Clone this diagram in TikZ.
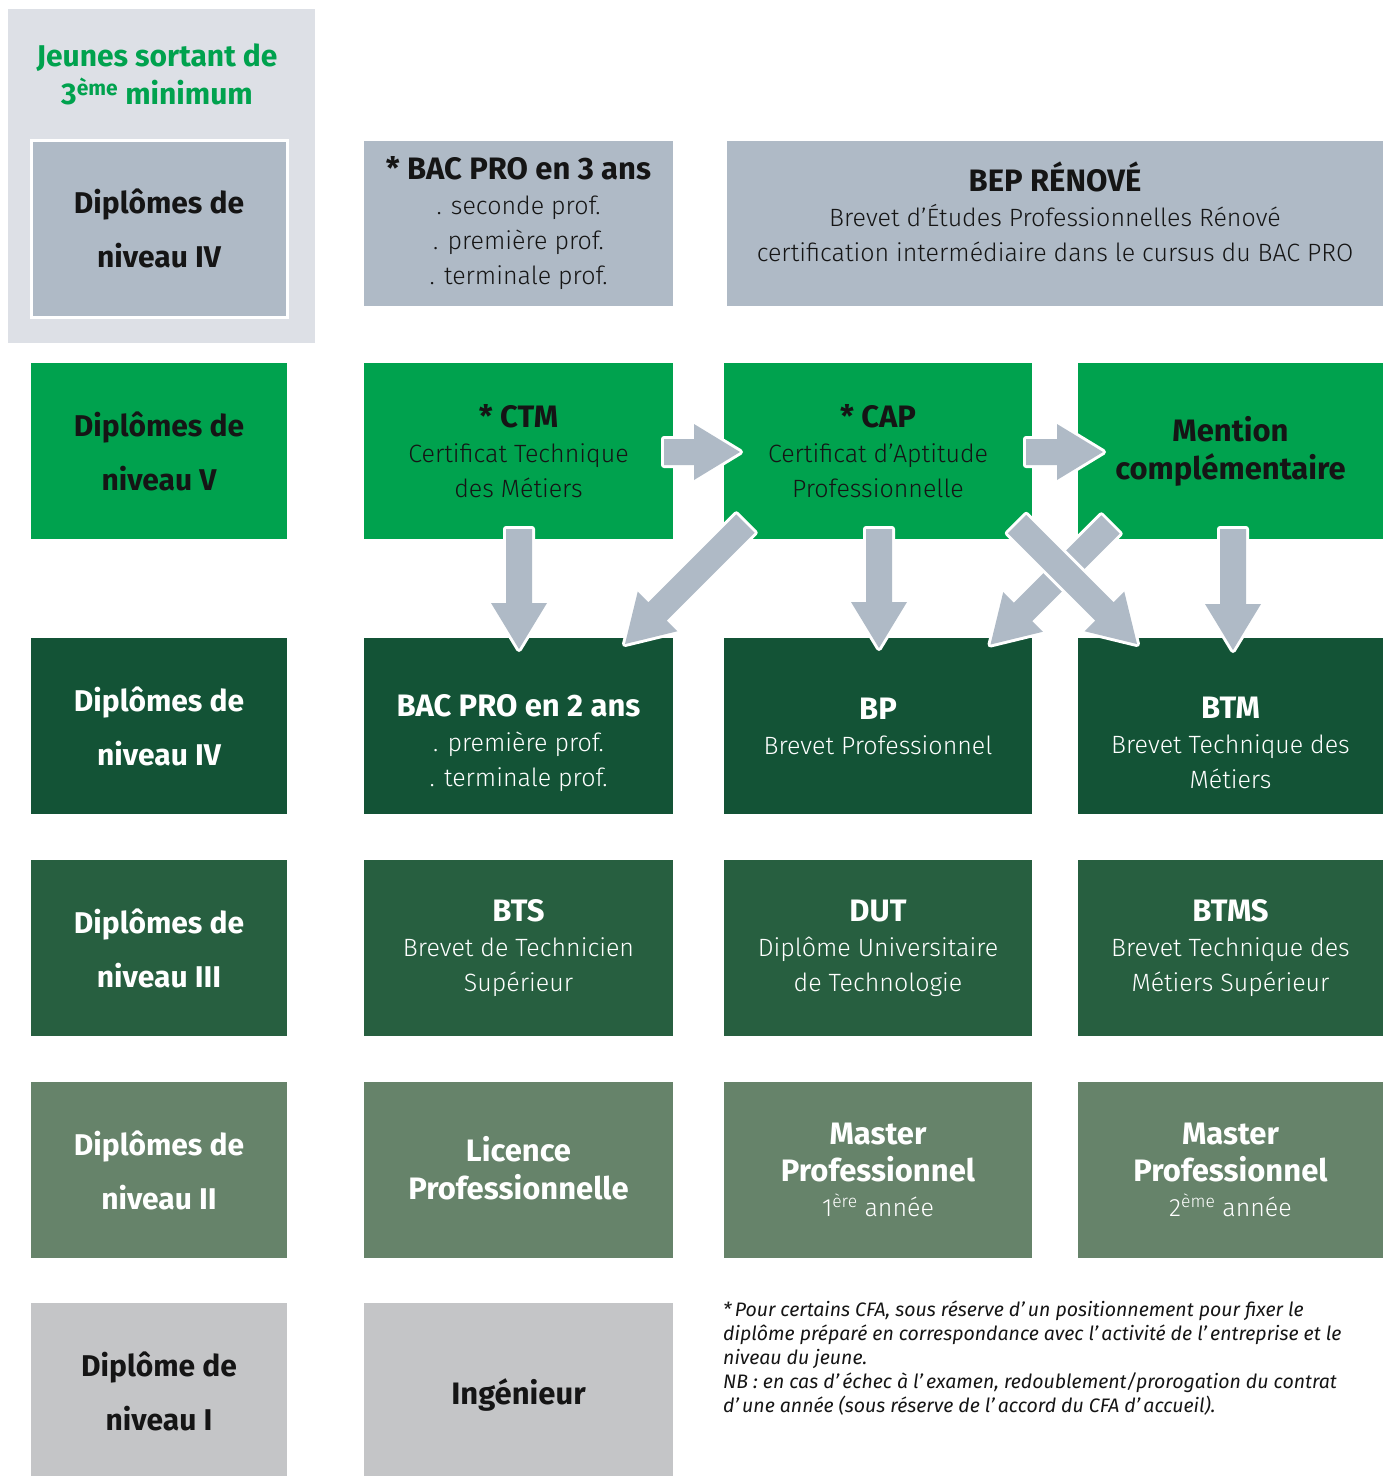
\documentclass[tikz,border=0pt]{standalone}
\usepackage{fontspec}
\setmainfont{Fira Sans Light}[BoldFont={Fira Sans Bold}, ItalicFont={Fira Sans Italic}]
\usetikzlibrary{calc}
\definecolor{panel}{HTML}{DDE0E6}
\definecolor{grayb}{HTML}{AFBAC6}
\definecolor{gvert}{HTML}{00A24E}
\definecolor{dkgreen}{HTML}{135336}
\definecolor{midgreen}{HTML}{275F40}
\definecolor{sage}{HTML}{66836A}
\definecolor{lgray}{HTML}{C4C5C7}
\definecolor{ink}{HTML}{151515}
\newcommand\ttl[1]{{\fontsize{31}{35}\selectfont\bfseries #1}}
\newcommand\arrowpath[2]{($(#1)!13pt!90:(#2)$) -- ($(hb)!13pt!-90:(#1)$) -- ($(hb)!28pt!-90:(#1)$) -- (#2) -- ($(hb)!28pt!90:(#1)$) -- ($(hb)!13pt!90:(#1)$) -- ($(#1)!13pt!-90:(#2)$) -- cycle}
\newcommand\blockarrow[2]{%
  \coordinate (hb) at ($(#2)!46pt!(#1)$);
  \draw[white, line width=6pt, line join=round] \arrowpath{#1}{#2};
  \fill[grayb] \arrowpath{#1}{#2};}
\begin{document}
\begin{tikzpicture}[x=1pt,y=-1pt,
  cell/.style={rectangle, inner sep=0pt, outer sep=0pt, align=center, font=\fontsize{25}{35}\selectfont},
  txt/.style={inner sep=0pt, outer sep=0pt, align=center, font=\fontsize{25}{35}\selectfont},
  lab/.style={cell, minimum width=256pt, minimum height=176pt, font=\fontsize{30}{54}\selectfont\bfseries},
  c1/.style={cell, minimum width=309pt, minimum height=176pt},
  c2/.style={cell, minimum width=308pt, minimum height=176pt},
  c3/.style={cell, minimum width=305pt, minimum height=176pt},
  foot/.style={inner sep=0pt, anchor=north west, align=left, text=ink, font=\fontsize{19.5}{24}\selectfont\itshape}
]
\useasboundingbox (0,0) rectangle (1383,1476);
\fill[white] (0,0) rectangle (1383,1476);

% left top panel
\node[rectangle, fill=panel, minimum width=307pt, minimum height=334pt, inner sep=0pt] (panel) at (161.5,176) {};
\node[txt, text=gvert, font=\fontsize{30}{38}\selectfont\bfseries] (jeunes) at (157,74) {Jeunes sortant de\\3\textsuperscript{ème} minimum};
\node[lab, fill=grayb, draw=white, line width=3pt, minimum height=177pt, text=ink] (l0) at (159,228.5) {Diplômes de\\niveau IV};

% row 0
\node[cell, fill=grayb, minimum width=309pt, minimum height=165pt, text=ink] (bac3) at (518.5,223.5) {\ttl{* BAC PRO en 3 ans}\\. seconde prof.\\. première prof.\\. terminale prof.};
\node[cell, fill=grayb, minimum width=656pt, minimum height=165pt] (bep) at (1055,223.5) {};
\node[txt, text=ink] (bept) at (1055,212) {\ttl{BEP RÉNOVÉ}\\Brevet d’Études Professionnelles Rénové\\certification intermédiaire dans le cursus du BAC PRO};

% row 1
\node[lab, fill=gvert, text=ink] (l1) at (159,451) {Diplômes de\\niveau V};
\node[c1, fill=gvert, text=ink] (ctm) at (518.5,451) {\ttl{* CTM}\\Certificat Technique\\des Métiers};
\node[c2, fill=gvert, text=ink] (cap) at (878,451) {\ttl{* CAP}\\Certificat d'Aptitude\\Professionnelle};
\node[c3, fill=gvert, text=ink, font=\fontsize{31}{38}\selectfont\bfseries] (mc) at (1230.5,451) {Mention\\complémentaire};

% row 2
\node[lab, fill=dkgreen, text=white] (l2) at (159,726) {Diplômes de\\niveau IV};
\node[c1, fill=dkgreen] (bac2) at (518.5,726) {};
\node[txt, text=white] (bac2t) at (518.5,743) {\ttl{BAC PRO en 2 ans}\\. première prof.\\. terminale prof.};
\node[c2, fill=dkgreen, text=white] (bp) at (878,726) {\ttl{BP}\\Brevet Professionnel};
\node[c3, fill=dkgreen] (btm) at (1230.5,726) {};
\node[txt, text=white] (btmt) at (1230.5,743) {\ttl{BTM}\\Brevet Technique des\\Métiers};

% row 3
\node[lab, fill=midgreen, text=white] (l3) at (159,948) {Diplômes de\\niveau III};
\node[c1, fill=midgreen, text=white] (bts) at (518.5,948) {\ttl{BTS}\\Brevet de Technicien\\Supérieur};
\node[c2, fill=midgreen, text=white] (dut) at (878,948) {\ttl{DUT}\\Diplôme Universitaire\\de Technologie};
\node[c3, fill=midgreen, text=white] (btms) at (1230.5,948) {\ttl{BTMS}\\Brevet Technique des\\Métiers Supérieur};

% row 4
\node[lab, fill=sage, text=white] (l4) at (159,1170) {Diplômes de\\niveau II};
\node[c1, fill=sage] (lic) at (518.5,1170) {};
\node[txt, text=white, font=\fontsize{31}{38}\selectfont\bfseries] (lict) at (518.5,1168) {Licence\\Professionnelle};
\node[c2, fill=sage, text=white] (m1) at (878,1170) {\ttl{Master}\\[2pt]\ttl{Professionnel}\\1\textsuperscript{ère} année};
\node[c3, fill=sage, text=white] (m2) at (1230.5,1170) {\ttl{Master}\\[2pt]\ttl{Professionnel}\\2\textsuperscript{ème} année};

% row 5
\node[lab, fill=lgray, minimum height=173pt] (l5) at (159,1389.5) {};
\node[txt, text=ink, font=\fontsize{30}{54}\selectfont\bfseries] (l5t) at (159,1391) {Diplôme de\\niveau I};
\node[c1, fill=lgray, minimum height=173pt] (ing) at (518.5,1389.5) {};
\node[txt, text=ink, font=\fontsize{31}{38}\selectfont\bfseries] (ingt) at (518.5,1395) {Ingénieur};

\node[foot] (note) at (723,1301) {*\,Pour certains CFA, sous réserve d’\,un positionnement pour fixer le\\diplôme préparé en correspondance avec l’\,activité de l’\,entreprise et le\\niveau du jeune.\\NB : en cas d’\,échec à l’\,examen, redoublement/prorogation du contrat\\d’\,une année (sous réserve de l’\,accord du CFA d’\,accueil).};

% arrow end points
\coordinate (a1s) at (664,452);    \coordinate (a1e) at (740,452);
\coordinate (a2s) at (1026,452);   \coordinate (a2e) at (1103,452);
\coordinate (a3s) at (519,529);    \coordinate (a3e) at (519,649);
\coordinate (a4s) at (879,529);    \coordinate (a4e) at (879,648);
\coordinate (a5s) at (1233,529);   \coordinate (a5e) at (1233,650);
\coordinate (a6s) at (745.5,523.5);\coordinate (a6e) at (625,644);
\coordinate (a7s) at (1110.5,524.5);\coordinate (a7e) at (990.5,644.5);
\coordinate (a8s) at (1017,524);   \coordinate (a8e) at (1137,644);

\blockarrow{a1s}{a1e}
\blockarrow{a2s}{a2e}
\blockarrow{a3s}{a3e}
\blockarrow{a4s}{a4e}
\blockarrow{a5s}{a5e}
\blockarrow{a6s}{a6e}
\blockarrow{a7s}{a7e}
\blockarrow{a8s}{a8e}
\end{tikzpicture}
\end{document}
